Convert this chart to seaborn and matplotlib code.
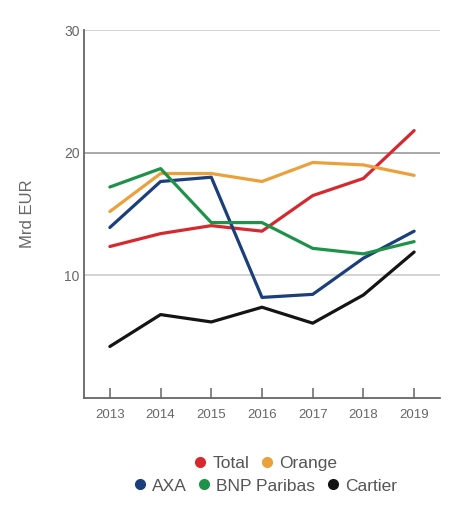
import matplotlib
matplotlib.use("Agg")
import matplotlib.pyplot as plt
from matplotlib.lines import Line2D
import seaborn as sns
import pandas as pd

years = [2013, 2014, 2015, 2016, 2017, 2018, 2019]
total = [12.35, 13.4, 14.05, 13.6, 16.5, 17.9, 21.8]
orange = [15.2, 18.3, 18.3, 17.65, 19.2, 19.0, 18.15]
axa = [13.9, 17.65, 18.0, 8.2, 8.45, 11.4, 13.6]
bnp = [17.2, 18.7, 14.3, 14.3, 12.2, 11.75, 12.75]
cartier = [4.2, 6.8, 6.2, 7.4, 6.1, 8.4, 11.9]
series_names = ["Total", "Orange", "AXA", "BNP Paribas", "Cartier"]
colors = ["#d7282f", "#eba03c", "#1b3f7a", "#1f9249", "#141414"]
yticks = [10, 20, 30]

sns.set_theme(style="white")
plt.rcParams['font.family'] = ['Liberation Sans', 'DejaVu Sans']

rows = []
for name, vals in zip(series_names, [total, orange, axa, bnp, cartier]):
    for y, v in zip(years, vals):
        rows.append({"year": y, "value": v, "series": name})
df = pd.DataFrame(rows)
palette = dict(zip(series_names, colors))

fig = plt.figure(figsize=(4.6, 5.14), dpi=100)
ax = fig.add_axes([84/460, 1 - 398/514, (440-84)/460, (398-30)/514])

for yv, c in zip(yticks, ["#cccccc", "#9a9a9a", "#cccccc"]):
    ax.axhline(yv, color=c, lw=1.2, zorder=0)

sns.lineplot(data=df, x="year", y="value", hue="series", palette=palette,
             hue_order=series_names, linewidth=2.3, legend=False, ax=ax)

ax.set_xlim(2012.49, 2019.51)
ax.set_ylim(0, 30)
ax.set_xticks(years)
ax.set_xticklabels([str(y) for y in years])
ax.set_yticks(yticks)
ax.set_xlabel("")
ax.set_ylabel("Mrd EUR", color="#666666", fontsize=12, labelpad=21)
for s in ["top", "right"]:
    ax.spines[s].set_visible(False)
for s in ["left", "bottom"]:
    ax.spines[s].set_color("#666666")
    ax.spines[s].set_linewidth(1.3)
ax.tick_params(axis="x", direction="in", length=7, width=1.1, color="#666666",
               labelcolor="#666666", labelsize=9.5, pad=8, bottom=True)
ax.tick_params(axis="y", length=0, labelcolor="#666666", labelsize=10, pad=3)

def handles(names):
    return [Line2D([], [], marker="o", linestyle="", color=palette[n],
                   markersize=7, label=n) for n in names]

common = dict(loc="center", frameon=False, fontsize=12.5, handletextpad=0.3,
              handlelength=0.8, columnspacing=0.6, labelcolor="#555555")
fig.legend(handles=handles(["Total", "Orange"]), ncol=2,
           bbox_to_anchor=(265/460, 1 - 463/514), **common)
fig.legend(handles=handles(["AXA", "BNP Paribas", "Cartier"]), ncol=3,
           bbox_to_anchor=(265/460, 1 - 486/514), **common)

fig.savefig("out.png", dpi=100)
